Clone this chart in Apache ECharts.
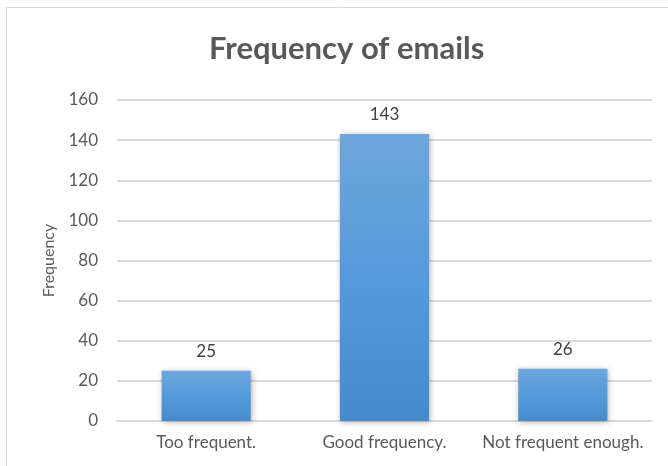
<!DOCTYPE html>
<html>
<head>
<meta charset="utf-8">
<script src="https://cdn.jsdelivr.net/npm/echarts@6/dist/echarts.min.js"></script>
<style>
  html, body { margin: 0; padding: 0; background: #fff; }
  #chart-container { width: 668px; height: 466px; }
</style>
</head>
<body>
<div id="chart-container"></div>
<script>
var categories = ['Too frequent.', 'Good frequency.', 'Not frequent enough.'];
var counts = [25, 143, 26];
var yTicks = { min: 0, max: 160, interval: 20 };

var chartDom = document.getElementById('chart-container');
var myChart = echarts.init(chartDom);
var textColor = '#595959';
var fontFamily = 'Lato, "Open Sans", sans-serif';

var option = {
  textStyle: { fontFamily: fontFamily },
  graphic: [{
    type: 'rect',
    shape: { x: 6.5, y: 7.5, width: 700, height: 500 },
    style: { fill: 'none', stroke: '#d9d9d9', lineWidth: 1 },
    silent: true
  }],
  title: {
    text: 'Frequency of emails',
    left: 204,
    top: 28,
    textStyle: { fontSize: 31, fontWeight: 'bold', color: textColor, fontFamily: fontFamily }
  },
  grid: { left: 117, right: 16, top: 100, bottom: 45 },
  xAxis: {
    type: 'category',
    data: categories,
    axisLine: { lineStyle: { color: '#d9d9d9', width: 2 } },
    axisTick: { show: false },
    axisLabel: { color: textColor, fontSize: 17, margin: 13, interval: 0 }
  },
  yAxis: {
    type: 'value',
    min: yTicks.min,
    max: yTicks.max,
    interval: yTicks.interval,
    name: 'Frequency',
    nameLocation: 'middle',
    nameRotate: 90,
    nameGap: 60,
    nameTextStyle: { color: textColor, fontSize: 16 },
    axisLine: { show: false },
    axisTick: { show: false },
    axisLabel: { color: textColor, fontSize: 17, margin: 19 },
    splitLine: { lineStyle: { color: '#d9d9d9', width: 2 } }
  },
  series: [{
    type: 'bar',
    data: counts,
    barWidth: '50%',
    barCategoryGap: '50%',
    itemStyle: {
      color: new echarts.graphic.LinearGradient(0, 0, 0, 1, [
        { offset: 0, color: '#6ea6dc' },
        { offset: 0.5, color: '#559ada' },
        { offset: 1, color: '#458bcc' }
      ]),
      shadowColor: 'rgba(0,0,0,0.3)',
      shadowBlur: 6,
      shadowOffsetX: 1,
      shadowOffsetY: 1
    },
    label: {
      show: true,
      position: 'top',
      distance: 11,
      color: '#404040',
      fontSize: 17
    }
  }]
};

option && myChart.setOption(option);
</script>
</body>
</html>
